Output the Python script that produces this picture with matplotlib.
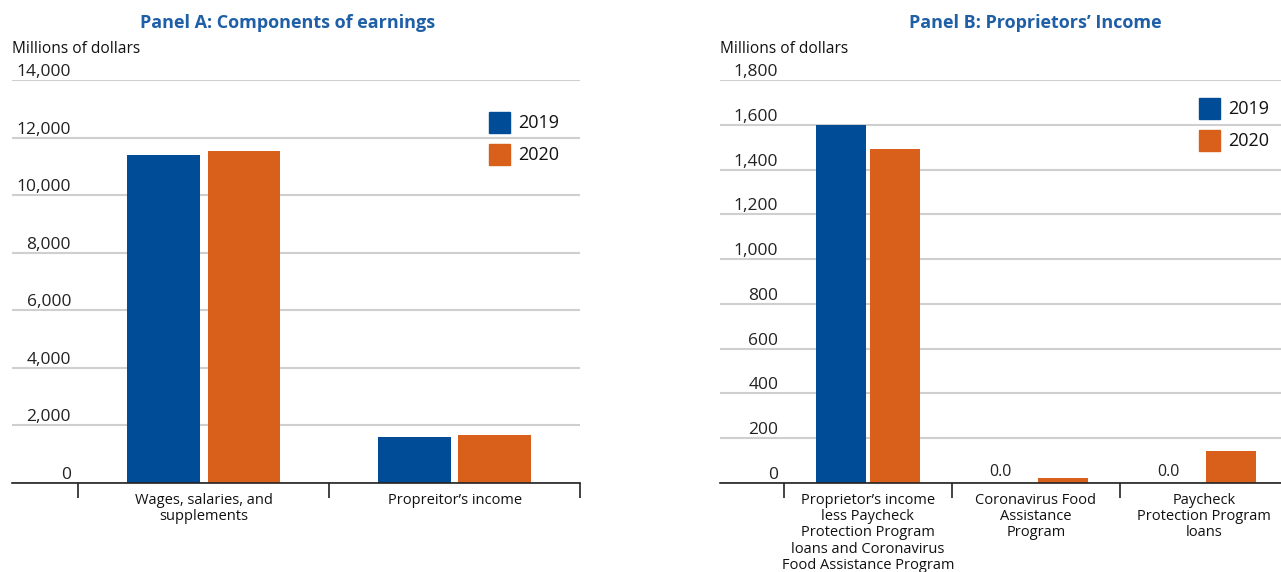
import numpy as np
import matplotlib.pyplot as plt

plt.rcParams['font.family'] = ['Open Sans', 'DejaVu Sans']

# Panel A: components of earnings (millions of dollars)
cats_a = ["Wages, salaries, and\nsupplements", "Propreitor\u2019s income"]
a_2019 = [11400, 1600]
a_2020 = [11530, 1655]
ticks_a = [0, 2000, 4000, 6000, 8000, 10000, 12000, 14000]

# Panel B: proprietors' income breakdown (millions of dollars)
cats_b = ["Proprietor\u2019s income\nless Paycheck\nProtection Program\nloans and Coronavirus\nFood Assistance Program",
          "Coronavirus Food\nAssistance\nProgram",
          "Paycheck\nProtection Program\nloans"]
b_2019 = [1600, 0.0, 0.0]
b_2020 = [1492, 22, 143]
ticks_b = [0, 200, 400, 600, 800, 1000, 1200, 1400, 1600, 1800]

BLUE = "#004c97"
ORANGE = "#d9601a"
TITLE = "#1f5fa6"
GRID = "#cfcfcf"

W, H = 1281, 572
fig = plt.figure(figsize=(W / 100, H / 100), dpi=100)


def px_axes(x0, x1, ytop, ybot):
    return fig.add_axes([x0 / W, 1 - ybot / H, (x1 - x0) / W, (ybot - ytop) / H])


def setup(ax, ticks, xlim, pad, cats, boundaries):
    ax.set_ylim(0, ticks[-1])
    ax.set_xlim(*xlim)
    for s in ["top", "right", "left"]:
        ax.spines[s].set_visible(False)
    ax.spines["bottom"].set_color("#222222")
    ax.spines["bottom"].set_linewidth(1.2)
    ax.set_yticks(ticks, [f"{t:,}" for t in ticks])
    ax.tick_params(axis="y", length=0, pad=pad, labelsize=12.5, labelcolor="#222222")
    for lab in ax.get_yticklabels():
        lab.set_va("bottom")
        lab.set_ha("right")
    ax.yaxis.grid(True, color=GRID, lw=1.5)
    ax.set_axisbelow(True)
    ax.set_xticks(range(len(cats)), cats, fontsize=10.5, linespacing=1.12)
    ax.tick_params(axis="x", which="major", length=0, pad=7, labelcolor="#111111")
    ax.set_xticks(boundaries, minor=True)
    ax.tick_params(axis="x", which="minor", length=11, width=1.2, color="#222222", direction="out")


def legend(x, y):
    fig.patches.append(plt.Rectangle((x / W, 1 - (y + 21) / H), 21 / W, 21 / H,
                                     color=BLUE, transform=fig.transFigure))
    fig.patches.append(plt.Rectangle((x / W, 1 - (y + 53) / H), 21 / W, 21 / H,
                                     color=ORANGE, transform=fig.transFigure))
    fig.text((x + 29) / W, 1 - (y + 11) / H, "2019", fontsize=13, va="center", color="#111111")
    fig.text((x + 29) / W, 1 - (y + 43) / H, "2020", fontsize=13, va="center", color="#111111")


width = 0.29
off = 0.16

# Panel A
axa = px_axes(12, 580, 80, 483)
xa = np.arange(len(cats_a))
axa.bar(xa - off, a_2019, width, color=BLUE)
axa.bar(xa + off, a_2020, width, color=ORANGE)
setup(axa, ticks_a, (-0.765, 1.5), -42.5, cats_a, [-0.5, 0.5, 1.5])
fig.text(288 / W, 1 - 23 / H, "Panel A: Components of earnings", ha="center", va="center",
         fontsize=13, fontweight="bold", color=TITLE)
fig.text(12 / W, 1 - 49 / H, "Millions of dollars", ha="left", va="center", fontsize=11.2, color="#111111")
legend(489, 112)

# Panel B
axb = px_axes(720, 1281, 80, 483)
xb = np.arange(len(cats_b))
axb.bar(xb - off, b_2019, width * 1.03, color=BLUE)
axb.bar(xb + off, b_2020, width * 1.03, color=ORANGE)
setup(axb, ticks_b, (-0.88, 2.46), -42, cats_b, [-0.5, 0.5, 1.5])
for i, v in enumerate(b_2019):
    if v == 0:
        axb.text(i - off - 0.05, v + 12, f"{v:.1f}", ha="center", va="bottom", fontsize=11.5, color="#222222")
fig.text(1035 / W, 1 - 23 / H, "Panel B: Proprietors\u2019 Income", ha="center", va="center",
         fontsize=13, fontweight="bold", color=TITLE)
fig.text(720 / W, 1 - 49 / H, "Millions of dollars", ha="left", va="center", fontsize=11.2, color="#111111")
legend(1199, 98)

fig.savefig("out.png", dpi=100)
